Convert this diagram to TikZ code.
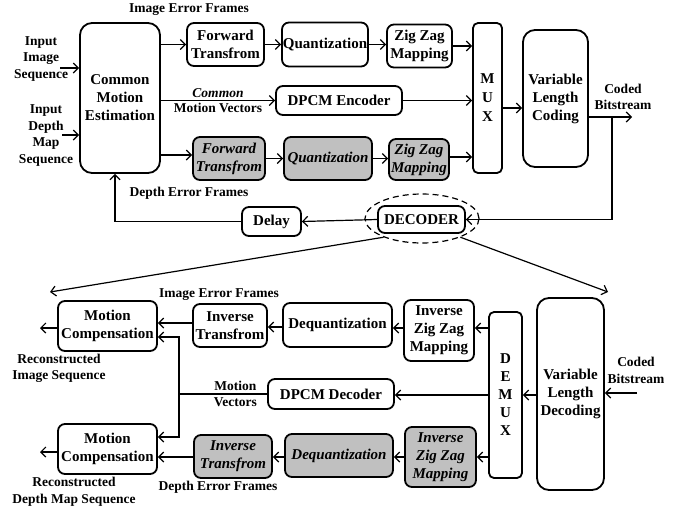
\documentclass[tikz,border=0pt]{standalone}
\usepackage{fontspec}
\setmainfont{Liberation Serif}
\usetikzlibrary{arrows.meta,shapes.geometric}
\definecolor{boxgray}{RGB}{192,192,192}

\begin{document}
\begin{tikzpicture}[x=1pt,y=-1pt]
      \tikzset{blk/.style={draw, line width=1.8pt, rounded corners=7pt, align=center, inner sep=0pt, font=\fontsize{15}{18}\selectfont\bfseries},
               shaded/.style={blk, fill=boxgray, font=\fontsize{15}{18}\selectfont\bfseries\itshape},
               lbl/.style={align=center, inner sep=0pt, font=\fontsize{13.5}{16.5}\selectfont\bfseries},
               arr/.style={line width=1.2pt, -{Straight Barb[length=5pt,width=10pt]}},
               ln/.style={line width=1.2pt}}
      \useasboundingbox (0,0) rectangle (686,512);
%% Encoder
      	\node[blk, rounded corners=12pt, minimum width=80pt, minimum height=150pt] (cme) at (120,98) {Common\\Motion\\Estimation};
      	\node[blk, minimum width=77pt, minimum height=43pt] (fwd) at (225.5,44.5) {Forward\\Transfrom};
      	\node[blk, minimum width=86pt, minimum height=44pt] (quant) at (325,44.5) {Quantization};
      	\node[blk, minimum width=65pt, minimum height=43pt] (zz) at (419.5,46) {Zig Zag\\Mapping};
      	\node[blk, minimum width=126pt, minimum height=29pt] (dpcm) at (339,100.5) {DPCM Encoder};
      	\node[shaded, minimum width=72pt, minimum height=43pt] (fwdd) at (229,158.5) {Forward\\Transfrom};
      	\node[shaded, minimum width=88pt, minimum height=43pt] (quantd) at (328,158.5) {Quantization};
      	\node[shaded, minimum width=60pt, minimum height=41pt] (zzd) at (419,159.5) {Zig Zag\\Mapping};
      	\node[blk, rounded corners=5pt, minimum width=29pt, minimum height=150pt, font=\fontsize{15}{19}\selectfont\bfseries] (mux) at (487.5,98) {M\\U\\X};
      	\node[blk, rounded corners=12pt, minimum width=65pt, minimum height=137pt] (vlc) at (555.5,98.5) {Variable\\Length\\Coding};
      	\node[blk, minimum width=87pt, minimum height=27pt] (dec) at (421.5,219.5) {DECODER};
      	\node[ellipse, draw, dash pattern=on 6pt off 4pt, line width=1.2pt, minimum width=114pt, minimum height=49pt] (ring) at (422,218.5) {};
      	\node[blk, minimum width=59pt, minimum height=29pt] (delay) at (271.5,221.5) {Delay};
%% Encoder labels
      	\node[lbl] (ief) at (189,10) {Image Error Frames};
      	\node[lbl] (def) at (189,193) {Depth Error Frames};
      	\node[lbl] (inimg) at (41,59) {Input\\Image\\Sequence};
      	\node[lbl] (indep) at (46,135.5) {Input\\Depth\\Map\\Sequence};
      	\node[lbl] (cbs) at (623,97) {Coded\\Bitstream};
      	\coordinate (in1) at (60,68);
      	\coordinate (in2) at (62,135);
      	\coordinate (out) at (632,117);
      	\coordinate (split) at (612,117);
      	\coordinate (toimg) at (50,292);
      	\coordinate (todep) at (608,292);
%Edges
		\draw[arr] (in1) -- (in1 -| cme.west);
		\draw[arr] (in2) -- (in2 -| cme.west);
		\draw[arr] (fwd -| cme.east) -- (fwd.west);
		\draw[arr] (fwd.east) -- (fwd.east -| quant.west);
		\draw[arr] (quant.east) -- (quant.east -| zz.west);
		\draw[arr] (zz.east) -- (zz.east -| mux.west);
		\draw[arr] (dpcm -| cme.east) -- node[lbl, above=2pt, font=\fontsize{13.5}{16.5}\selectfont\bfseries\itshape] {Common} node[lbl, below=2pt] {Motion Vectors} (dpcm.west);
		\draw[arr] (dpcm.east) -- (dpcm.east -| mux.west);
		\draw[arr] (cme.east |- 0,155) -- (fwdd.west |- 0,155);
		\draw[arr] (fwdd.east) -- (fwdd.east -| quantd.west);
		\draw[arr] (quantd.east) -- (quantd.east -| zzd.west);
		\draw[arr] (zzd.east |- 0,157) -- (mux.west |- 0,157);
		\draw[arr] (mux.east |- 0,108) -- (vlc.west |- 0,108);
		\draw[arr] (vlc.east |- out) -- (out);
		\draw[arr] (split) |- (dec.east);
		\draw[arr] (dec.west) -- (delay.east);
		\draw[arr] (delay.west) -| ([xshift=-5pt]cme.south);
		\draw[arr] (ring.206) -- (toimg);
		\draw[arr] (ring.334) -- (todep);
%% Decoder
      	\node[blk, minimum width=99pt, minimum height=50pt] (mcimg) at (107.5,326) {Motion\\Compensation};
      	\node[blk, minimum width=74pt, minimum height=43pt] (invt) at (230,325.5) {Inverse\\Transfrom};
      	\node[blk, minimum width=109pt, minimum height=44pt] (deq) at (337.5,325) {Dequantization};
      	\node[blk, minimum width=70pt, minimum height=61pt] (izz) at (439,330.5) {Inverse\\Zig Zag\\Mapping};
      	\node[blk, minimum width=126pt, minimum height=30pt] (dpcmd) at (331,394) {DPCM Decoder};
      	\node[blk, minimum width=99pt, minimum height=50pt] (mcdep) at (107.5,449) {Motion\\Compensation};
      	\node[shaded, minimum width=78pt, minimum height=43pt] (invtd) at (233,456.5) {Inverse\\Transfrom};
      	\node[shaded, minimum width=108pt, minimum height=43pt] (deqd) at (339,455.5) {Dequantization};
      	\node[shaded, minimum width=71pt, minimum height=60pt] (izzd) at (440.5,457) {Inverse\\Zig Zag\\Mapping};
      	\node[blk, rounded corners=5pt, minimum width=33pt, minimum height=166pt, font=\fontsize{15}{18}\selectfont\bfseries] (demux) at (505.5,395) {D\\E\\M\\U\\X};
      	\node[blk, rounded corners=12pt, minimum width=67pt, minimum height=192pt] (vld) at (570.5,394) {Variable\\Length\\Decoding};
%% Decoder labels
      	\node[lbl] (ief2) at (219,295) {Image Error Frames};
      	\node[lbl] (def2) at (218,487) {Depth Error Frames};
      	\node[lbl] (recimg) at (59,368.5) {Reconstructed\\Image Sequence};
      	\node[lbl] (recdep) at (74,491.5) {Reconstructed\\Depth Map Sequence};
      	\node[lbl] (cbs2) at (636,370.5) {Coded\\Bitstream};
      	\coordinate (in3) at (637,393);
      	\coordinate (mv) at (179,394);
      	\coordinate (outimg) at (40,328);
      	\coordinate (outdep) at (40,452);
%Edges
		\draw[arr] (in3) -- (in3 -| vld.east);
		\draw[arr] (vld.west |- 0,395) -- (demux.east |- 0,395);
		\draw[arr] (demux.west |- 0,328) -- (izz.east |- 0,328);
		\draw[arr] (izz.west |- 0,328) -- (deq.east |- 0,328);
		\draw[arr] (deq.west |- 0,327) -- (invt.east |- 0,327);
		\draw[arr] (invt.west |- 0,323) -- (mcimg.east |- 0,323);
		\draw[arr] (demux.west |- 0,395) -- (dpcmd.east |- 0,395);
		\draw[ln] (dpcmd.west) -- node[lbl, pos=0.36, above=3pt] {Motion} node[lbl, pos=0.36, below=3pt] {Vectors} (mv);
		\draw[arr] (mv) |- (mcimg.east |- 0,337);
		\draw[arr] (mv) |- (mcdep.east |- 0,437);
		\draw[arr] (mcimg.west |- outimg) -- (outimg);
		\draw[arr] (mcdep.west |- outdep) -- (outdep);
		\draw[arr] (demux.west |- 0,457) -- (izzd.east |- 0,457);
		\draw[arr] (izzd.west |- 0,457) -- (deqd.east |- 0,457);
		\draw[arr] (deqd.west |- 0,457) -- (invtd.east |- 0,457);
		\draw[arr] (invtd.west |- 0,457) -- (mcdep.east |- 0,457);
	\end{tikzpicture}
\end{document}
